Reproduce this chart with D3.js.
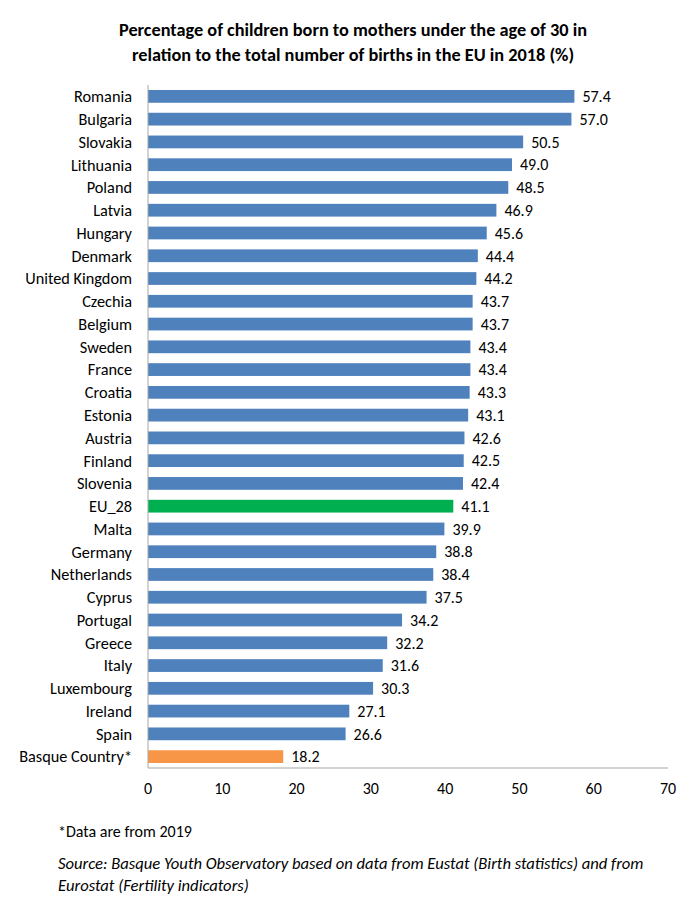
<!DOCTYPE html>
<html>
<head>
<meta charset="utf-8">
<script src="https://cdn.jsdelivr.net/npm/d3@7"></script>
<style>
  body { margin: 0; background: #fff; }
  svg text { font-family: Carlito, Lato, "Open Sans", sans-serif; fill: #000; }
</style>
</head>
<body>
<div id="chart"></div>
<script>
// Chart data, top to bottom
var countries = ["Romania", "Bulgaria", "Slovakia", "Lithuania", "Poland", "Latvia", "Hungary",
  "Denmark", "United Kingdom", "Czechia", "Belgium", "Sweden", "France", "Croatia", "Estonia",
  "Austria", "Finland", "Slovenia", "EU_28", "Malta", "Germany", "Netherlands", "Cyprus",
  "Portugal", "Greece", "Italy", "Luxembourg", "Ireland", "Spain", "Basque Country*"];
var values = [57.4, 57.0, 50.5, 49.0, 48.5, 46.9, 45.6, 44.4, 44.2, 43.7, 43.7, 43.4, 43.4, 43.3,
  43.1, 42.6, 42.5, 42.4, 41.1, 39.9, 38.8, 38.4, 37.5, 34.2, 32.2, 31.6, 30.3, 27.1, 26.6, 18.2];
var xTicks = [0, 10, 20, 30, 40, 50, 60, 70];

function init() {
  var w = 700, h = 900;
  var svg = d3.select("#chart").append("svg").attr("width", w).attr("height", h);

  var data = countries.map(function (c, i) { return { name: c, value: values[i] }; });

  var x = d3.scaleLinear().domain([0, 70]).range([148, 668]);
  var y = d3.scaleBand().domain(countries).range([85, 768]).paddingInner(0.44).paddingOuter(0.22);

  // title
  svg.append("text")
    .attr("x", 353).attr("y", 36)
    .attr("text-anchor", "middle")
    .style("font-size", "18.3px").style("font-weight", "bold")
    .text("Percentage of children born to mothers under the age of 30 in");
  svg.append("text")
    .attr("x", 353).attr("y", 61)
    .attr("text-anchor", "middle")
    .style("font-size", "18.3px").style("font-weight", "bold")
    .text("relation to the total number of births in the EU in 2018 (%)");

  // bars
  svg.selectAll("rect.bar")
    .data(data)
    .enter()
    .append("rect")
    .attr("class", "bar")
    .attr("x", x(0))
    .attr("y", function (d) { return y(d.name); })
    .attr("width", function (d) { return x(d.value) - x(0); })
    .attr("height", y.bandwidth())
    .attr("fill", function (d) {
      if (d.name === "EU_28") return "#00b050";
      if (d.name === "Basque Country*") return "#f79646";
      return "#4f81bd";
    });

  // value labels
  svg.selectAll("text.val")
    .data(data)
    .enter()
    .append("text")
    .attr("class", "val")
    .attr("x", function (d) { return x(d.value) + 8; })
    .attr("y", function (d) { return y(d.name) + y.bandwidth() / 2; })
    .attr("dy", "0.36em")
    .style("font-size", "16px")
    .text(function (d) { return d3.format(".1f")(d.value); });

  // category labels
  svg.selectAll("text.cat")
    .data(data)
    .enter()
    .append("text")
    .attr("class", "cat")
    .attr("x", 132)
    .attr("y", function (d) { return y(d.name) + y.bandwidth() / 2; })
    .attr("dy", "0.36em")
    .attr("text-anchor", "end")
    .style("font-size", "16.3px")
    .text(function (d) { return d.name; });

  // axes lines
  svg.append("line")
    .attr("x1", x(0)).attr("x2", x(0))
    .attr("y1", 85).attr("y2", 768)
    .attr("stroke", "#a6a6a6");
  svg.append("line")
    .attr("x1", x(0)).attr("x2", x(70))
    .attr("y1", 768).attr("y2", 768)
    .attr("stroke", "#a6a6a6");

  // x tick labels
  svg.selectAll("text.tick")
    .data(xTicks)
    .enter()
    .append("text")
    .attr("class", "tick")
    .attr("x", function (d) { return x(d); })
    .attr("y", 794)
    .attr("text-anchor", "middle")
    .style("font-size", "16px")
    .text(function (d) { return d; });

  // notes
  svg.append("text")
    .attr("x", 58).attr("y", 837)
    .style("font-size", "16px")
    .text("*Data are from 2019");
  svg.append("text")
    .attr("x", 58).attr("y", 869)
    .style("font-size", "16.6px").style("font-style", "italic")
    .text("Source: Basque Youth Observatory based on data from Eustat (Birth statistics) and from");
  svg.append("text")
    .attr("x", 58).attr("y", 891)
    .style("font-size", "16.6px").style("font-style", "italic")
    .text("Eurostat (Fertility indicators)");
}

window.onload = init;
</script>
</body>
</html>
